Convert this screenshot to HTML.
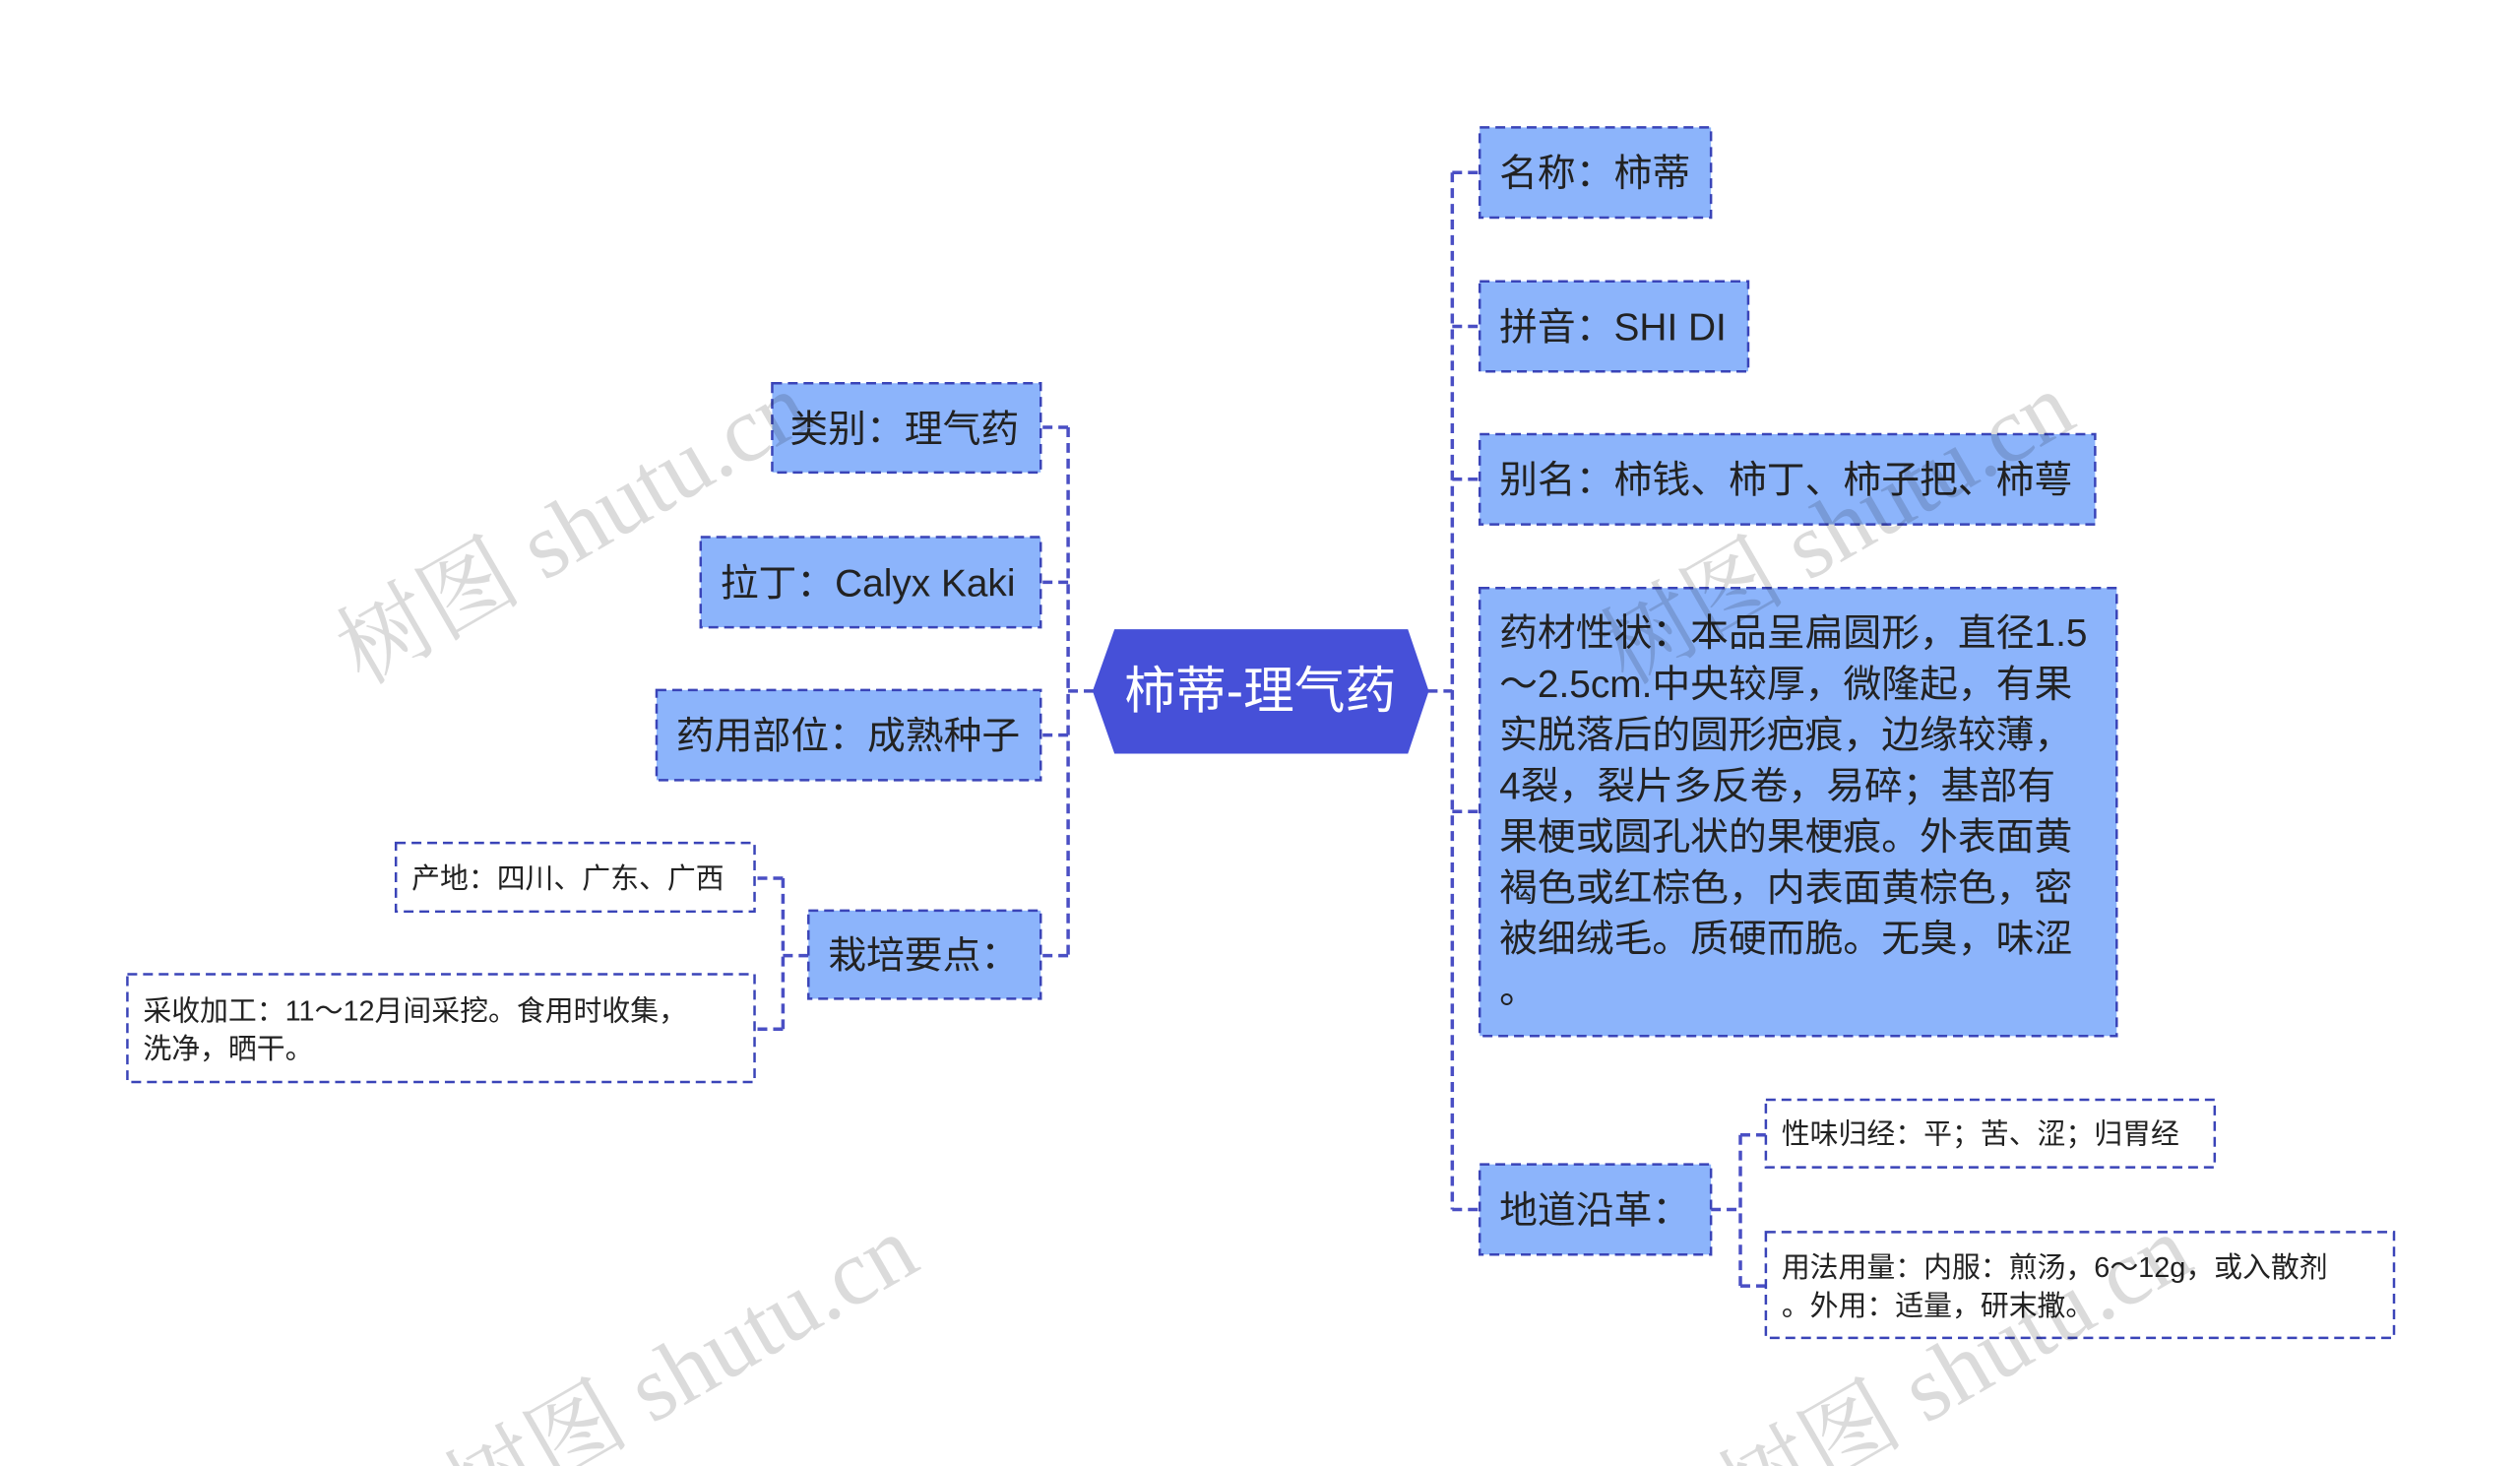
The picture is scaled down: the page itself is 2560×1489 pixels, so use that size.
<!DOCTYPE html>
<html><head><meta charset="utf-8"><style>
html,body{margin:0;padding:0;background:#fff;width:2560px;height:1489px;overflow:hidden;}
svg{display:block;}
text{font-family:"Liberation Sans","Noto Sans CJK SC",sans-serif;}
.n{fill:#8cb4fb;stroke:#3a44b8;stroke-width:2.5;stroke-dasharray:10 6;}
.w{fill:#fff;stroke:#3a44b8;stroke-width:2.5;stroke-dasharray:10 6;}
.c{fill:none;stroke:#4a4fc4;stroke-width:3.5;stroke-dasharray:10 6;}
.t{font-size:39px;fill:#222;}
.s{font-size:29px;fill:#222;}
.wm{font-family:"Liberation Serif","Noto Serif CJK SC",serif;font-size:95px;fill:rgba(0,0,0,0.14);}
</style></head><body>
<svg width="2560" height="1489" viewBox="0 0 2560 1489" xmlns="http://www.w3.org/2000/svg">
<g transform="scale(0.9955)">
<path class="c" d="M1457 705 H1482 M1482 176 V1234 M1482 176 H1510 M1482 333 H1510 M1482 489 H1510 M1482 828 H1510 M1482 1234 H1510"/>
<path class="c" d="M1116 705 H1090 M1090 436 V975 M1090 436 H1062 M1090 594 H1062 M1090 750 H1062 M1090 975 H1062"/>
<path class="c" d="M825 975 H799 M799 896 V1050 M799 896 H771 M799 1050 H771"/>
<path class="c" d="M1746 1234 H1776 M1776 1158 V1312 M1776 1158 H1802 M1776 1312 H1802"/>
<polygon points="1138,643 1436,643 1457,705 1436,768 1138,768 1116,705" fill="#4650d8" stroke="#4650d8" stroke-width="2"/>
<text x="1286" y="723" text-anchor="middle" style="font-size:52px;fill:#fff">柿蒂-理气药</text>
<rect class="n" x="1510" y="130" width="236" height="92"/>
<text class="t" x="1530" y="190">名称：柿蒂</text>
<rect class="n" x="1510" y="287" width="274" height="92"/>
<text class="t" x="1530" y="347">拼音：SHI DI</text>
<rect class="n" x="1510" y="443" width="628" height="92"/>
<text class="t" x="1530" y="503">别名：柿钱、柿丁、柿子把、柿萼</text>
<rect class="n" x="1510" y="600" width="650" height="457"/>
<text class="t" x="1530" y="659">药材性状：本品呈扁圆形，直径1.5</text>
<text class="t" x="1530" y="711">～2.5cm.中央较厚，微隆起，有果</text>
<text class="t" x="1530" y="763">实脱落后的圆形疤痕，边缘较薄，</text>
<text class="t" x="1530" y="815">4裂，裂片多反卷，易碎；基部有</text>
<text class="t" x="1530" y="867">果梗或圆孔状的果梗痕。外表面黄</text>
<text class="t" x="1530" y="919">褐色或红棕色，内表面黄棕色，密</text>
<text class="t" x="1530" y="971">被细绒毛。质硬而脆。无臭，味涩</text>
<text class="t" x="1530" y="1023">。</text>
<rect class="n" x="1510" y="1188" width="236" height="92"/>
<text class="t" x="1530" y="1248">地道沿革：</text>
<rect class="w" x="1802" y="1122" width="458" height="69"/>
<text class="s" x="1818" y="1167">性味归经：平；苦、涩；归胃经</text>
<rect class="w" x="1802" y="1257" width="641" height="108"/>
<text class="s" x="1818" y="1303">用法用量：内服：煎汤，6～12g，或入散剂</text>
<text class="s" x="1818" y="1342">。外用：适量，研末撒。</text>
<rect class="n" x="788" y="391" width="274" height="91"/>
<text class="t" x="806" y="451">类别：理气药</text>
<rect class="n" x="715" y="548" width="347" height="92"/>
<text class="t" x="735" y="608">拉丁：Calyx Kaki</text>
<rect class="n" x="670" y="704" width="392" height="92"/>
<text class="t" x="690" y="764">药用部位：成熟种子</text>
<rect class="n" x="825" y="929" width="237" height="90"/>
<text class="t" x="845" y="988">栽培要点：</text>
<rect class="w" x="404" y="860" width="366" height="70"/>
<text class="s" x="420" y="906">产地：四川、广东、广西</text>
<rect class="w" x="130" y="994" width="640" height="110"/>
<text class="s" x="146" y="1041">采收加工：11～12月间采挖。食用时收集，</text>
<text class="s" x="146" y="1080">洗净，晒干。</text>
<text class="wm" transform="translate(370,700) rotate(-30)">树图 shutu.cn</text>
<text class="wm" transform="translate(1660,700) rotate(-30)">树图 shutu.cn</text>
<text class="wm" transform="translate(480,1560) rotate(-30)">树图 shutu.cn</text>
<text class="wm" transform="translate(1780,1560) rotate(-30)">树图 shutu.cn</text>
</g>
</svg>
</body></html>
